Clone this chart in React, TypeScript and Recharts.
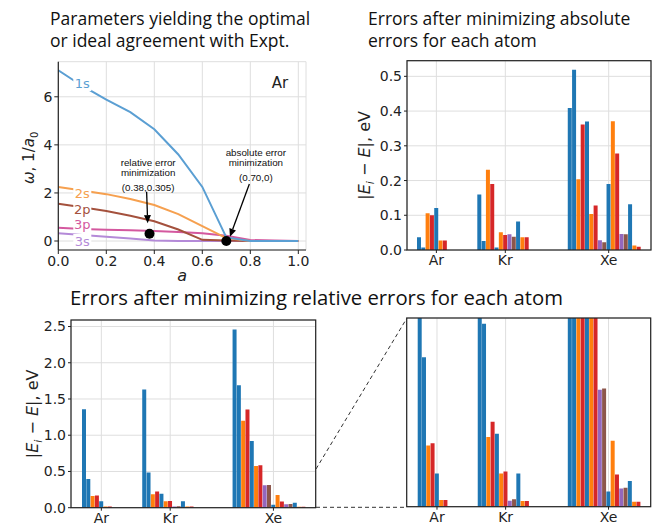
import React from "react";
import {
  LineChart,
  Line,
  BarChart,
  Bar,
  Cell,
  XAxis,
  YAxis,
  CartesianGrid,
  ReferenceDot,
  ReferenceLine,
} from "recharts";

// --- panel 1: omega(a) for Ar ---
const aValues = [0, 0.1, 0.2, 0.3, 0.4, 0.5, 0.6, 0.7, 0.8, 0.9, 1.0];
const omega1s = [7.1, 6.45, 5.88, 5.36, 4.65, 3.6, 2.25, 0.15, 0.0, 0.0, 0.0];
const omega2s = [2.25, 2.1, 1.95, 1.75, 1.5, 1.12, 0.62, 0.12, 0.0, 0.0, 0.0];
const omega2p = [1.55, 1.4, 1.25, 1.05, 0.82, 0.48, 0.05, 0.02, 0.0, 0.0, 0.0];
const omega3p = [0.55, 0.5, 0.47, 0.45, 0.42, 0.38, 0.32, 0.22, 0.04, 0.02, 0.0];
const omega3s = [0.32, 0.25, 0.18, 0.1, 0.02, 0.0, 0.0, 0.0, 0.0, 0.0, 0.0];
const optimumA = [0.38, 0.7];
const optimumOmega = [0.305, 0];

// --- bar panels ---
const atoms = ["Ar", "Kr", "Xe"];
const orbitalsAr = ["1s", "2s", "2p1/2", "2p3/2", "3s", "3p1/2", "3p3/2"];
const orbitalsKr = [...orbitalsAr, "3d3/2", "3d5/2", "4s", "4p1/2", "4p3/2"];
const orbitalsXe = [...orbitalsKr, "4d3/2", "4d5/2", "5s", "5p1/2", "5p3/2"];

// after minimizing absolute errors
const absErrAr = [0.037, 0.007, 0.106, 0.1, 0.121, 0.027, 0.027];
const absErrKr = [0.16, 0.026, 0.231, 0.19, 0.007, 0.051, 0.043, 0.045, 0.038, 0.082, 0.037, 0.037];
const absErrXe = [0.409, 0.519, 0.204, 0.361, 0.37, 0.104, 0.128, 0.028, 0.022, 0.19, 0.371, 0.278, 0.046, 0.045, 0.132, 0.013, 0.009];

// after minimizing relative errors
const relErrAr = [1.36, 0.396, 0.162, 0.168, 0.088, 0.018, 0.018];
const relErrKr = [1.63, 0.485, 0.185, 0.225, 0.193, 0.088, 0.093, 0.016, 0.02, 0.088, 0.015, 0.015];
const relErrXe = [2.46, 1.69, 1.2, 1.355, 0.92, 0.575, 0.585, 0.31, 0.313, 0.04, 0.175, 0.085, 0.048, 0.05, 0.068, 0.013, 0.013];

const FRAME = { stroke: "#222", strokeWidth: 1.2 };
const TICK = { fontSize: 14, fill: "#222", fontFamily: "DejaVu Sans" };
const GRID = "#dedede";
const GAPS = [7, 9]; // empty slots between atom groups

const orbitalColor = (orb: string) => {
  if (orb.endsWith("s")) return "#1f77b4";
  if (orb.endsWith("p1/2")) return "#ff7f0e";
  if (orb.endsWith("p3/2")) return "#d62728";
  if (orb.endsWith("d3/2")) return "#9467bd";
  return "#8c564b";
};

function buildRows(groups: number[][]) {
  const orbs = [orbitalsAr, orbitalsKr, orbitalsXe];
  const rows: { slot: number; v: number | null; orb: string }[] = [];
  const ticks: number[] = [];
  groups.forEach((vals, g) => {
    if (g > 0) for (let k = 0; k < GAPS[g - 1]; k++) rows.push({ slot: rows.length, v: null, orb: "" });
    const start = rows.length;
    vals.forEach((v, i) => rows.push({ slot: rows.length, v, orb: orbs[g][i] }));
    ticks.push(start + Math.floor((vals.length + 1) / 2));
  });
  return { rows, ticks };
}

const errLabel = (x: number) => (props: any) => {
  const vb = props.viewBox || {};
  const y = (vb.y ?? 0) + (vb.height ?? 0) / 2;
  return (
    <text x={x} y={y} transform={`rotate(-90, ${x}, ${y})`} textAnchor="middle" fontSize={16} fontFamily="DejaVu Sans" fill="#222">
      |<tspan fontStyle="italic">E</tspan>
      <tspan fontStyle="italic" fontSize={11} dy={4}>i</tspan>
      <tspan dy={-4}> − </tspan>
      <tspan fontStyle="italic">E</tspan>|, eV
    </text>
  );
};

function ErrorBars(props: {
  groups: number[][];
  width: number;
  height: number;
  margin: { top: number; right: number; bottom: number; left: number };
  yWidth: number;
  xHeight: number;
  yMax: number;
  yTicks: number[];
  showY: boolean;
  labelX: number;
  pad: { left: number; right: number };
}) {
  const { rows, ticks } = buildRows(props.groups);
  const tickName = (v: number) => atoms[ticks.indexOf(v)] ?? "";
  const m = props.margin;
  const plotLeft = m.left + props.yWidth;
  const plotRight = props.width - m.right;
  const plotBottom = props.height - m.bottom - props.xHeight;
  return (
    <div style={{ position: "relative", width: props.width, height: props.height }}>
      <BarChart width={props.width} height={props.height} data={rows} margin={m} barCategoryGap={0} barGap={0}>
        <CartesianGrid stroke={GRID} />
        <XAxis
          dataKey="slot"
          type="category"
          ticks={ticks}
          interval={0}
          tickFormatter={tickName}
          height={props.xHeight}
          padding={props.pad}
          tick={TICK}
          tickLine={{ stroke: "#222" }}
          tickSize={3}
          tickMargin={2}
          axisLine={false}
        />
        <YAxis
          type="number"
          domain={[0, props.yMax]}
          allowDataOverflow
          ticks={props.yTicks}
          interval={0}
          tickFormatter={(v: number) => v.toFixed(1)}
          width={props.yWidth}
          tick={props.showY ? TICK : false}
          tickLine={props.showY ? { stroke: "#222" } : false}
          tickSize={3}
          tickMargin={2}
          axisLine={false}
          label={props.showY ? errLabel(props.labelX) : undefined}
        />
        <Bar dataKey="v" isAnimationActive={false}>
          {rows.map((r, i) => (
            <Cell key={i} fill={orbitalColor(r.orb)} />
          ))}
        </Bar>
      </BarChart>
      {/* axes frame */}
      <svg width={props.width} height={props.height} style={{ position: "absolute", left: 0, top: 0, pointerEvents: "none" }}>
        <rect x={plotLeft} y={m.top} width={plotRight - plotLeft} height={plotBottom - m.top} fill="none" {...FRAME} />
      </svg>
    </div>
  );
}

const curveTag = (name: string, color: string, dy: number) => (props: any) => {
  if (props.index !== 1) return null;
  const vb = props.viewBox || {};
  const x = props.x ?? vb.x;
  const y = (props.y ?? vb.y) + dy;
  return (
    <g>
      <rect x={x - 9} y={y - 7} width={18} height={14} fill="#fff" />
      <text x={x} y={y} textAnchor="middle" dominantBaseline="central" fontSize={13} fontFamily="DejaVu Sans" fill={color}>
        {name}
      </text>
    </g>
  );
};

const arrowNote = (lines: string[], dx: number, dys: number[]) => (p: any) => {
  const { x1, y1, x2, y2 } = p;
  const ang = Math.atan2(y2 - y1, x2 - x1);
  const c = Math.cos(ang);
  const s = Math.sin(ang);
  const bx = x2 - 8 * c;
  const by = y2 - 8 * s;
  return (
    <g>
      <line x1={x1} y1={y1} x2={bx} y2={by} stroke="#000" strokeWidth={1.3} />
      <polygon points={`${x2},${y2} ${bx - 3.5 * s},${by + 3.5 * c} ${bx + 3.5 * s},${by - 3.5 * c}`} fill="#000" />
      {lines.map((t, k) => (
        <text key={k} x={x1 + dx} y={y1 + dys[k]} textAnchor="middle" dominantBaseline="central" fontSize={9.8} fontFamily="Liberation Sans" fill="#111">
          {t}
        </text>
      ))}
    </g>
  );
};

function OmegaPanel() {
  const rows = aValues.map((a, i) => ({
    a,
    s1: omega1s[i],
    s2: omega2s[i],
    p2: omega2p[i],
    p3: omega3p[i],
    s3: omega3s[i],
  }));
  const series = [
    { key: "s3", name: "3s", color: "#b48ad8", dy: 6 },
    { key: "p3", name: "3p", color: "#d4589f", dy: -4 },
    { key: "p2", name: "2p", color: "#a4513d", dy: 2.5 },
    { key: "s2", name: "2s", color: "#f6a04f", dy: 2.5 },
    { key: "s1", name: "1s", color: "#5b9fd3", dy: -2 },
  ];
  return (
    <LineChart width={320} height={290} data={rows} margin={{ top: 61.7, right: 14, bottom: 10, left: 8.3 }}>
      <CartesianGrid stroke={GRID} />
      <XAxis
        dataKey="a"
        type="number"
        domain={[0, 1.032]}
        allowDataOverflow
        ticks={[0, 0.2, 0.4, 0.6, 0.8, 1.0]}
        interval={0}
        tickFormatter={(v: number) => v.toFixed(1)}
        height={30}
        tick={TICK}
        tickLine={{ stroke: "#222" }}
        tickSize={4}
        tickMargin={2}
        axisLine={FRAME}
        label={(props: any) => {
          const vb = props.viewBox || {};
          return (
            <text x={(vb.x ?? 0) + (vb.width ?? 0) / 2} y={(vb.y ?? 0) + 25} textAnchor="middle" dominantBaseline="central" fontSize={16} fontStyle="italic" fontFamily="DejaVu Sans" fill="#222">
              a
            </text>
          );
        }}
      />
      <XAxis xAxisId="top" orientation="top" height={0} tick={false} tickLine={false} axisLine={FRAME} />
      <YAxis
        type="number"
        domain={[-0.374, 7.46]}
        allowDataOverflow
        ticks={[0, 2, 4, 6]}
        interval={0}
        width={50}
        tick={TICK}
        tickLine={{ stroke: "#222" }}
        tickSize={4}
        tickMargin={2}
        axisLine={FRAME}
        label={(props: any) => {
          const vb = props.viewBox || {};
          const x = 34;
          const y = (vb.y ?? 0) + (vb.height ?? 0) / 2 + 2;
          return (
            <text x={x} y={y} transform={`rotate(-90, ${x}, ${y})`} textAnchor="middle" fontSize={15} fontFamily="DejaVu Sans" fill="#222">
              <tspan fontStyle="italic">ω</tspan>, 1/<tspan fontStyle="italic">a</tspan>
              <tspan fontSize={10} dy={4}>0</tspan>
            </text>
          );
        }}
      />
      <YAxis yAxisId="right" orientation="right" width={0} tick={false} tickLine={false} axisLine={FRAME} />
      {series.map((s) => (
        <Line
          key={s.key}
          dataKey={s.key}
          type="linear"
          stroke={s.color}
          strokeWidth={2}
          dot={false}
          isAnimationActive={false}
          label={curveTag(s.name, s.color, s.dy)}
        />
      ))}
      {optimumA.map((a, i) => (
        <ReferenceDot key={i} x={a} y={optimumOmega[i]} r={5} fill="#000" stroke="none" />
      ))}
      <ReferenceLine
        segment={[{ x: 0.368, y: 2.05 }, { x: 0.3725, y: 0.74 }]}
        shape={arrowNote(["relative error", "minimization", "(0.38,0.305)"], 1.5, [-29.5, -19.2, -4])}
      />
      <ReferenceLine
        segment={[{ x: 0.796, y: 2.37 }, { x: 0.715, y: 0.18 }]}
        shape={arrowNote(["absolute error", "minimization", "(0.70,0)"], 6.5, [-32, -21.7, -6.5])}
      />
      <ReferenceDot
        x={0.924}
        y={6.57}
        r={0}
        shape={(p: any) => (
          <text x={p.cx} y={p.cy} textAnchor="middle" dominantBaseline="central" fontSize={15} fontFamily="DejaVu Sans" fill="#222">
            Ar
          </text>
        )}
      />
    </LineChart>
  );
}

export default function App() {
  const titleFont = { fontFamily: "Open Sans", fill: "#111" };
  return (
    <div style={{ position: "absolute", left: 0, top: 0, width: 664, height: 526, background: "#fff", overflow: "hidden" }}>
      <div style={{ position: "absolute", left: 0, top: 0 }}>
        <OmegaPanel />
      </div>
      <div style={{ position: "absolute", left: 330, top: 0 }}>
        <ErrorBars
          groups={[absErrAr, absErrKr, absErrXe]}
          width={334}
          height={290}
          margin={{ top: 60.7, right: 13, bottom: 10, left: 0 }}
          yWidth={77}
          xHeight={30}
          yMax={0.545}
          yTicks={[0, 0.1, 0.2, 0.3, 0.4, 0.5]}
          showY
          labelX={40.5}
          pad={{ left: 10, right: 10 }}
        />
      </div>
      <div style={{ position: "absolute", left: 0, top: 290 }}>
        <ErrorBars
          groups={[relErrAr, relErrKr, relErrXe]}
          width={330}
          height={236}
          margin={{ top: 30, right: 14.3, bottom: 0, left: 0 }}
          yWidth={71}
          xHeight={18.3}
          yMax={2.59}
          yTicks={[0, 0.5, 1, 1.5, 2, 2.5]}
          showY
          labelX={38.5}
          pad={{ left: 11, right: 10 }}
        />
      </div>
      <div style={{ position: "absolute", left: 330, top: 290 }}>
        <ErrorBars
          groups={[relErrAr, relErrKr, relErrXe]}
          width={334}
          height={236}
          margin={{ top: 28, right: 13.3, bottom: 0, left: 0 }}
          yWidth={76.7}
          xHeight={19.3}
          yMax={0.5}
          yTicks={[0, 0.1, 0.2, 0.3, 0.4, 0.5]}
          showY={false}
          labelX={0}
          pad={{ left: 11, right: 10 }}
        />
      </div>
      <svg width={664} height={526} style={{ position: "absolute", left: 0, top: 0, pointerEvents: "none" }}>
        <text x={50} y={25} fontSize={17.5} {...titleFont}>Parameters yielding the optimal</text>
        <text x={50} y={47} fontSize={17.5} {...titleFont}>or ideal agreement with Expt.</text>
        <text x={368} y={25} fontSize={17.5} {...titleFont}>Errors after minimizing absolute</text>
        <text x={368} y={47} fontSize={17.5} {...titleFont}>errors for each atom</text>
        <text x={70} y={305} fontSize={20.3} {...titleFont}>Errors after minimizing relative errors for each atom</text>
        <line x1={316} y1={469} x2={406.7} y2={318.5} stroke="#333" strokeWidth={1} strokeDasharray="4 3" />
        <line x1={316} y1={507.3} x2={406.7} y2={507.3} stroke="#333" strokeWidth={1} strokeDasharray="4 3" />
      </svg>
    </div>
  );
}
